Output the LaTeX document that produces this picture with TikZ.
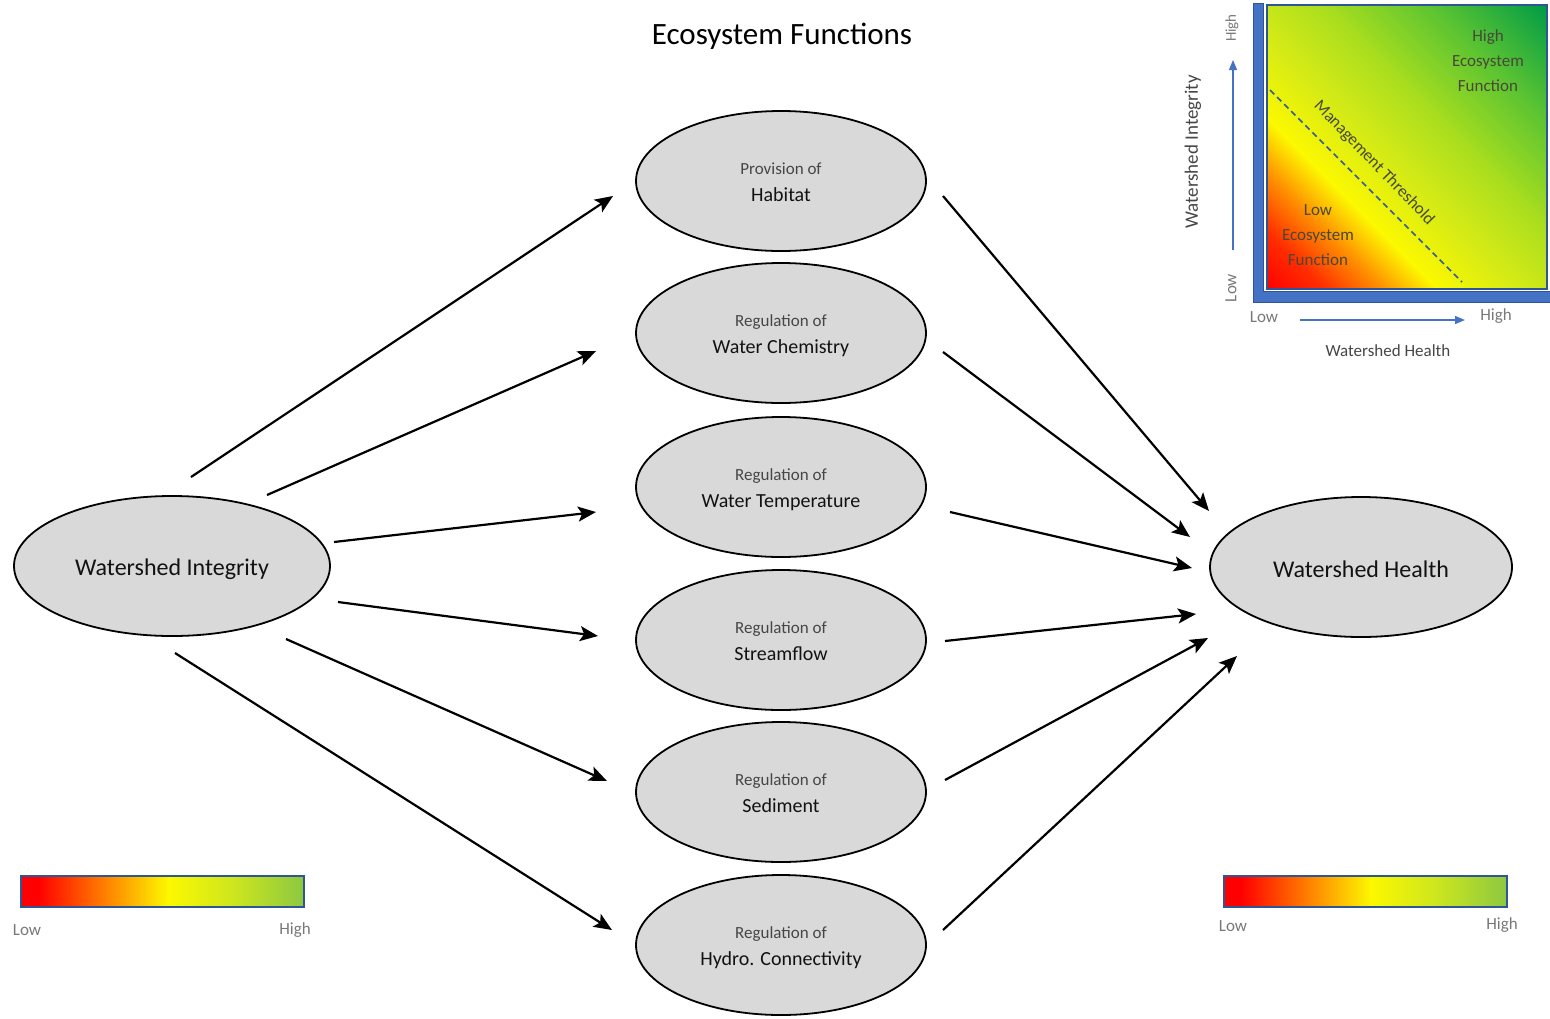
\documentclass[tikz,border=0pt]{standalone}
\usepackage{fontspec}
\setmainfont{Carlito}
\usetikzlibrary{shapes.geometric,arrows.meta,calc}
\definecolor{ellfill}{RGB}{217,217,217}
\definecolor{frameblue}{RGB}{68,114,196}
\definecolor{framedark}{RGB}{47,85,151}
\definecolor{maintext}{RGB}{18,18,18}
\definecolor{subtext}{RGB}{70,70,70}
\definecolor{insettext}{RGB}{72,72,55}
\definecolor{lowhigh}{RGB}{120,120,120}
\definecolor{cRed}{RGB}{255,0,0}
\definecolor{cRedO}{RGB}{255,45,0}
\definecolor{cOrange}{RGB}{255,140,0}
\definecolor{cYellow}{RGB}{252,248,0}
\definecolor{cYG}{RGB}{212,234,22}
\definecolor{cLG}{RGB}{170,222,30}
\definecolor{cG}{RGB}{90,195,50}
\definecolor{cDG}{RGB}{0,155,70}
\definecolor{bOrange}{RGB}{255,130,0}
\definecolor{bYG}{RGB}{205,230,30}
\definecolor{bGreen}{RGB}{140,200,65}
\pgfdeclarehorizontalshading{barshade}{100bp}{color(0bp)=(cRed); color(28bp)=(cRed); color(40bp)=(bOrange); color(51bp)=(cYellow); color(62.5bp)=(bYG); color(75bp)=(bGreen); color(100bp)=(bGreen)}
\pgfdeclarehorizontalshading{insetshade}{100bp}{color(0bp)=(cRed); color(14.6bp)=(cRed); color(21.7bp)=(cRedO); color(28.8bp)=(cOrange); color(35.9bp)=(cYellow); color(46.5bp)=(cYG); color(57.1bp)=(cLG); color(71.2bp)=(cG); color(85.4bp)=(cDG); color(100bp)=(cDG)}
\begin{document}
\begin{tikzpicture}[x=1pt,y=-1pt,
  ell/.style={ellipse, draw=black, line width=1.8pt, fill=ellfill, inner sep=0pt},
  sublab/.style={font=\fontsize{17}{20}\selectfont, text=subtext, inner sep=0pt, anchor=base},
  mainlab/.style={font=\fontsize{20}{24}\selectfont, text=maintext, inner sep=0pt, anchor=base},
  biglab/.style={font=\fontsize{24}{28}\selectfont, text=maintext, inner sep=0pt, anchor=base},
  arr/.style={line width=2.2pt, -{Stealth[length=18pt,width=15pt,inset=4pt]}},
  barr/.style={line width=1.2pt, frameblue, -{Triangle[length=10pt,width=8pt]}},
  lh/.style={font=\fontsize{17}{20}\selectfont, text=lowhigh, inner sep=0pt},
  ins/.style={font=\fontsize{17}{25}\selectfont, text=insettext, inner sep=0pt, align=center},
  cbar/.style={shading=barshade, draw=framedark, line width=1.5pt}
]
\useasboundingbox (0,0) rectangle (1550,1018);

% title
\node[font=\fontsize{31}{36}\selectfont, inner sep=0pt] (title) at (782,36) {Ecosystem Functions};

% main ellipses
\node[ell, minimum width=316pt, minimum height=140pt] (wi) at (172,566) {};
\node[biglab] (wiL) at ($(wi.center)+(0,9)$) {Watershed Integrity};
\node[ell, minimum width=302pt, minimum height=140pt] (wh) at (1361,567) {};
\node[biglab] (whL) at ($(wh.center)+(0,10)$) {Watershed Health};

% function ellipses
\node[ell, minimum width=290pt, minimum height=140pt] (hab) at (781,181) {};
\node[ell, minimum width=290pt, minimum height=140pt] (chem) at (781,333) {};
\node[ell, minimum width=290pt, minimum height=140pt] (temp) at (781,487) {};
\node[ell, minimum width=290pt, minimum height=140pt] (flow) at (781,640) {};
\node[ell, minimum width=290pt, minimum height=140pt] (sed) at (781,792) {};
\node[ell, minimum width=290pt, minimum height=140pt] (hyd) at (781,945) {};

\node[sublab] (habS) at ($(hab.center)+(0,-7)$) {Provision of};
\node[mainlab] (habM) at ($(hab.center)+(0,20)$) {Habitat};
\node[sublab] (chemS) at ($(chem.center)+(0,-7)$) {Regulation of};
\node[mainlab] (chemM) at ($(chem.center)+(0,20)$) {Water Chemistry};
\node[sublab] (tempS) at ($(temp.center)+(0,-7)$) {Regulation of};
\node[mainlab] (tempM) at ($(temp.center)+(0,20)$) {Water Temperature};
\node[sublab] (flowS) at ($(flow.center)+(0,-7)$) {Regulation of};
\node[mainlab] (flowM) at ($(flow.center)+(0,20)$) {Streamflow};
\node[sublab] (sedS) at ($(sed.center)+(0,-7)$) {Regulation of};
\node[mainlab] (sedM) at ($(sed.center)+(0,20)$) {Sediment};
\node[sublab] (hydS) at ($(hyd.center)+(0,-7)$) {Regulation of};
\node[mainlab] (hydM) at ($(hyd.center)+(0,20)$) {Hydro. Connectivity};

% arrow end points
\coordinate (l1s) at (191,477); \coordinate (l1e) at (613,196);
\coordinate (l2s) at (267,495); \coordinate (l2e) at (596,351);
\coordinate (l3s) at (334,542); \coordinate (l3e) at (596,512);
\coordinate (l4s) at (338,602); \coordinate (l4e) at (598,636);
\coordinate (l5s) at (286,639); \coordinate (l5e) at (607,781);
\coordinate (l6s) at (175,653); \coordinate (l6e) at (612,930);
\coordinate (r1s) at (943,196); \coordinate (r1e) at (1209,511);
\coordinate (r2s) at (943,352); \coordinate (r2e) at (1190,537);
\coordinate (r3s) at (950,512); \coordinate (r3e) at (1192,568);
\coordinate (r4s) at (945,641); \coordinate (r4e) at (1196,614);
\coordinate (r5s) at (945,780); \coordinate (r5e) at (1208,638);
\coordinate (r6s) at (943,930); \coordinate (r6e) at (1237,656);
\foreach \a in {l1,l2,l3,l4,l5,l6,r1,r2,r3,r4,r5,r6}{
  \draw[arr] (\a s) -- (\a e);
}

% colour bars
\path[cbar] (21,876) rectangle (304,907);
\node[lh] (lbL) at (27,930) {Low};
\node[lh] (lbH) at (295,930) {High};
\path[cbar] (1224,876) rectangle (1507,907);
\node[lh] (rbL) at (1233,926) {Low};
\node[lh] (rbH) at (1502,925) {High};

% inset
\path[fill=frameblue, draw=framedark, line width=1pt] (1253,3) -- (1263,3) -- (1263,291) -- (1551,291) -- (1551,302) -- (1253,302) -- cycle;
\path[shading=insetshade, shading angle=45, draw=framedark, line width=1.5pt] (1267,5) rectangle (1547,289);
\draw[framedark!80!frameblue, line width=1.6pt, dash pattern=on 6pt off 4pt] (1270,90) -- (1462,282);
\node[ins] (hiE) at (1488,61) {High\\Ecosystem\\Function};
\node[ins] (loE) at (1318,235) {Low\\Ecosystem\\Function};
\node[font=\fontsize{17}{20}\selectfont, text=insettext, inner sep=0pt, rotate=-46] (mt) at (1374,163) {Management Threshold};

\node[lh, rotate=90] (yH) at (1232,28) {\fontsize{15}{18}\selectfont High};
\node[lh, rotate=90] (yL) at (1231,288) {Low};
\node[lh, rotate=90, text=subtext] (yT) at (1193,152) {\fontsize{19}{22}\selectfont Watershed Integrity};
\coordinate (va) at (1233,250); \coordinate (vb) at (1233,60);
\draw[barr] (va) -- (vb);
\node[lh] (xL) at (1264,317) {Low};
\node[lh] (xH) at (1496,316) {High};
\coordinate (ha) at (1300,320); \coordinate (hb) at (1465,320);
\draw[barr] (ha) -- (hb);
\node[lh, text=subtext] (xT) at (1388,351) {Watershed Health};
\end{tikzpicture}
\end{document}
